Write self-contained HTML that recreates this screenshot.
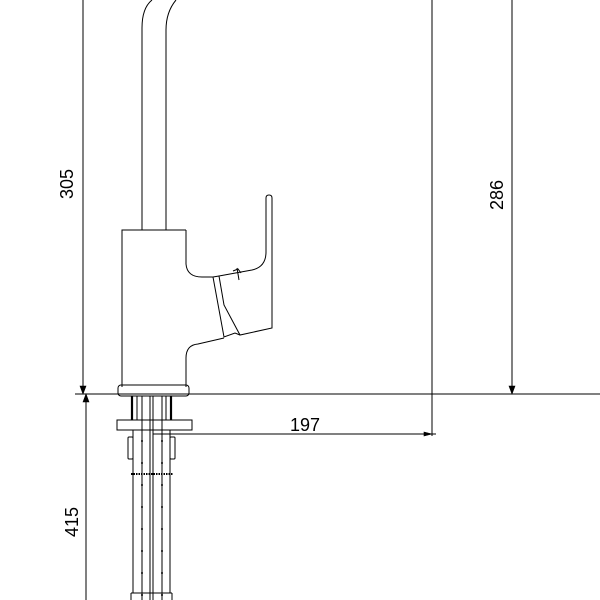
<!DOCTYPE html>
<html><head><meta charset="utf-8"><style>html,body{margin:0;padding:0;background:#fff}svg{display:block}</style></head>
<body>
<svg width="600" height="600" viewBox="0 0 600 600" xmlns="http://www.w3.org/2000/svg" fill="none" stroke="#000" stroke-width="1">
<line x1="83" y1="0" x2="83" y2="394"/>
<line x1="86" y1="394" x2="86" y2="600"/>
<line x1="75" y1="394" x2="600" y2="394"/>
<line x1="432" y1="0" x2="432" y2="436"/>
<line x1="512" y1="0" x2="512" y2="394"/>
<line x1="153" y1="434" x2="436" y2="434"/>
<path d="M80 386 L83 394 L86 386 Z M83 402 L86 394 L89 402Z M424 432 L432 434 L424 436Z M509 386 L512 394 L515 386Z" fill="#000" stroke-width="0.6"/>
<g fill="#000" stroke="none" font-family="Liberation Sans, sans-serif" font-size="18">
<text transform="translate(73,184) rotate(-90)" text-anchor="middle">305</text>
<text transform="translate(78,522) rotate(-90)" text-anchor="middle">415</text>
<text transform="translate(503,195) rotate(-90)" text-anchor="middle">286</text>
<text x="305" y="431" text-anchor="middle">197</text>
</g>
<path d="M142 230 L142 28 Q142 8 152 0"/>
<path d="M166 230 L166 30 Q166 12 176 0"/>
<path d="M186 387 L186 358 Q186 345 198 344 L224 338"/>
<path d="M186 230 L122 230 L122 387"/>
<path d="M186 230 L186 264 Q187 277 202 277 L213 277"/>
<path d="M219 276 L252 270 Q266 267 266 252 L266 198 Q266 195 269 195 Q272 195 272 198 L272 328 L240 335 L224 305 L219 276 Z"/>
<path d="M213 277 L219 276 M213 277 L224 337 L235 333 L240 335"/>
<path d="M237 268 L239 280 M233 271 L238 269 L241 273"/>
<rect x="118" y="385" width="71" height="11" rx="3"/>
<line x1="132" y1="396" x2="132" y2="420" stroke-width="2.2"/>
<line x1="171" y1="396" x2="171" y2="420" stroke-width="2.2"/>
<rect x="117" y="420" width="75" height="10"/>
<rect x="128" y="437" width="5" height="22" rx="1"/>
<rect x="170" y="437" width="5" height="22" rx="1"/>
<line x1="131" y1="474" x2="173" y2="474" stroke-width="2" stroke-dasharray="1.5 1"/>
<line x1="133" y1="430" x2="133" y2="593"/>
<line x1="142" y1="396" x2="142" y2="600"/>
<line x1="150" y1="396" x2="150" y2="600"/>
<line x1="153" y1="396" x2="153" y2="600"/>
<line x1="162" y1="396" x2="162" y2="600"/>
<line x1="170" y1="430" x2="170" y2="593"/>
<line x1="137" y1="396" x2="137" y2="420"/>
<line x1="166" y1="396" x2="166" y2="420"/>
<line x1="142" y1="440" x2="142" y2="600" stroke-dasharray="2 20" stroke-width="1.6"/>
<line x1="162" y1="440" x2="162" y2="600" stroke-dasharray="2 20" stroke-width="1.6"/>
<line x1="131" y1="593" x2="172" y2="593"/>
<line x1="131" y1="593" x2="131" y2="600"/>
<line x1="172" y1="593" x2="172" y2="600"/>
</svg>
</body></html>
